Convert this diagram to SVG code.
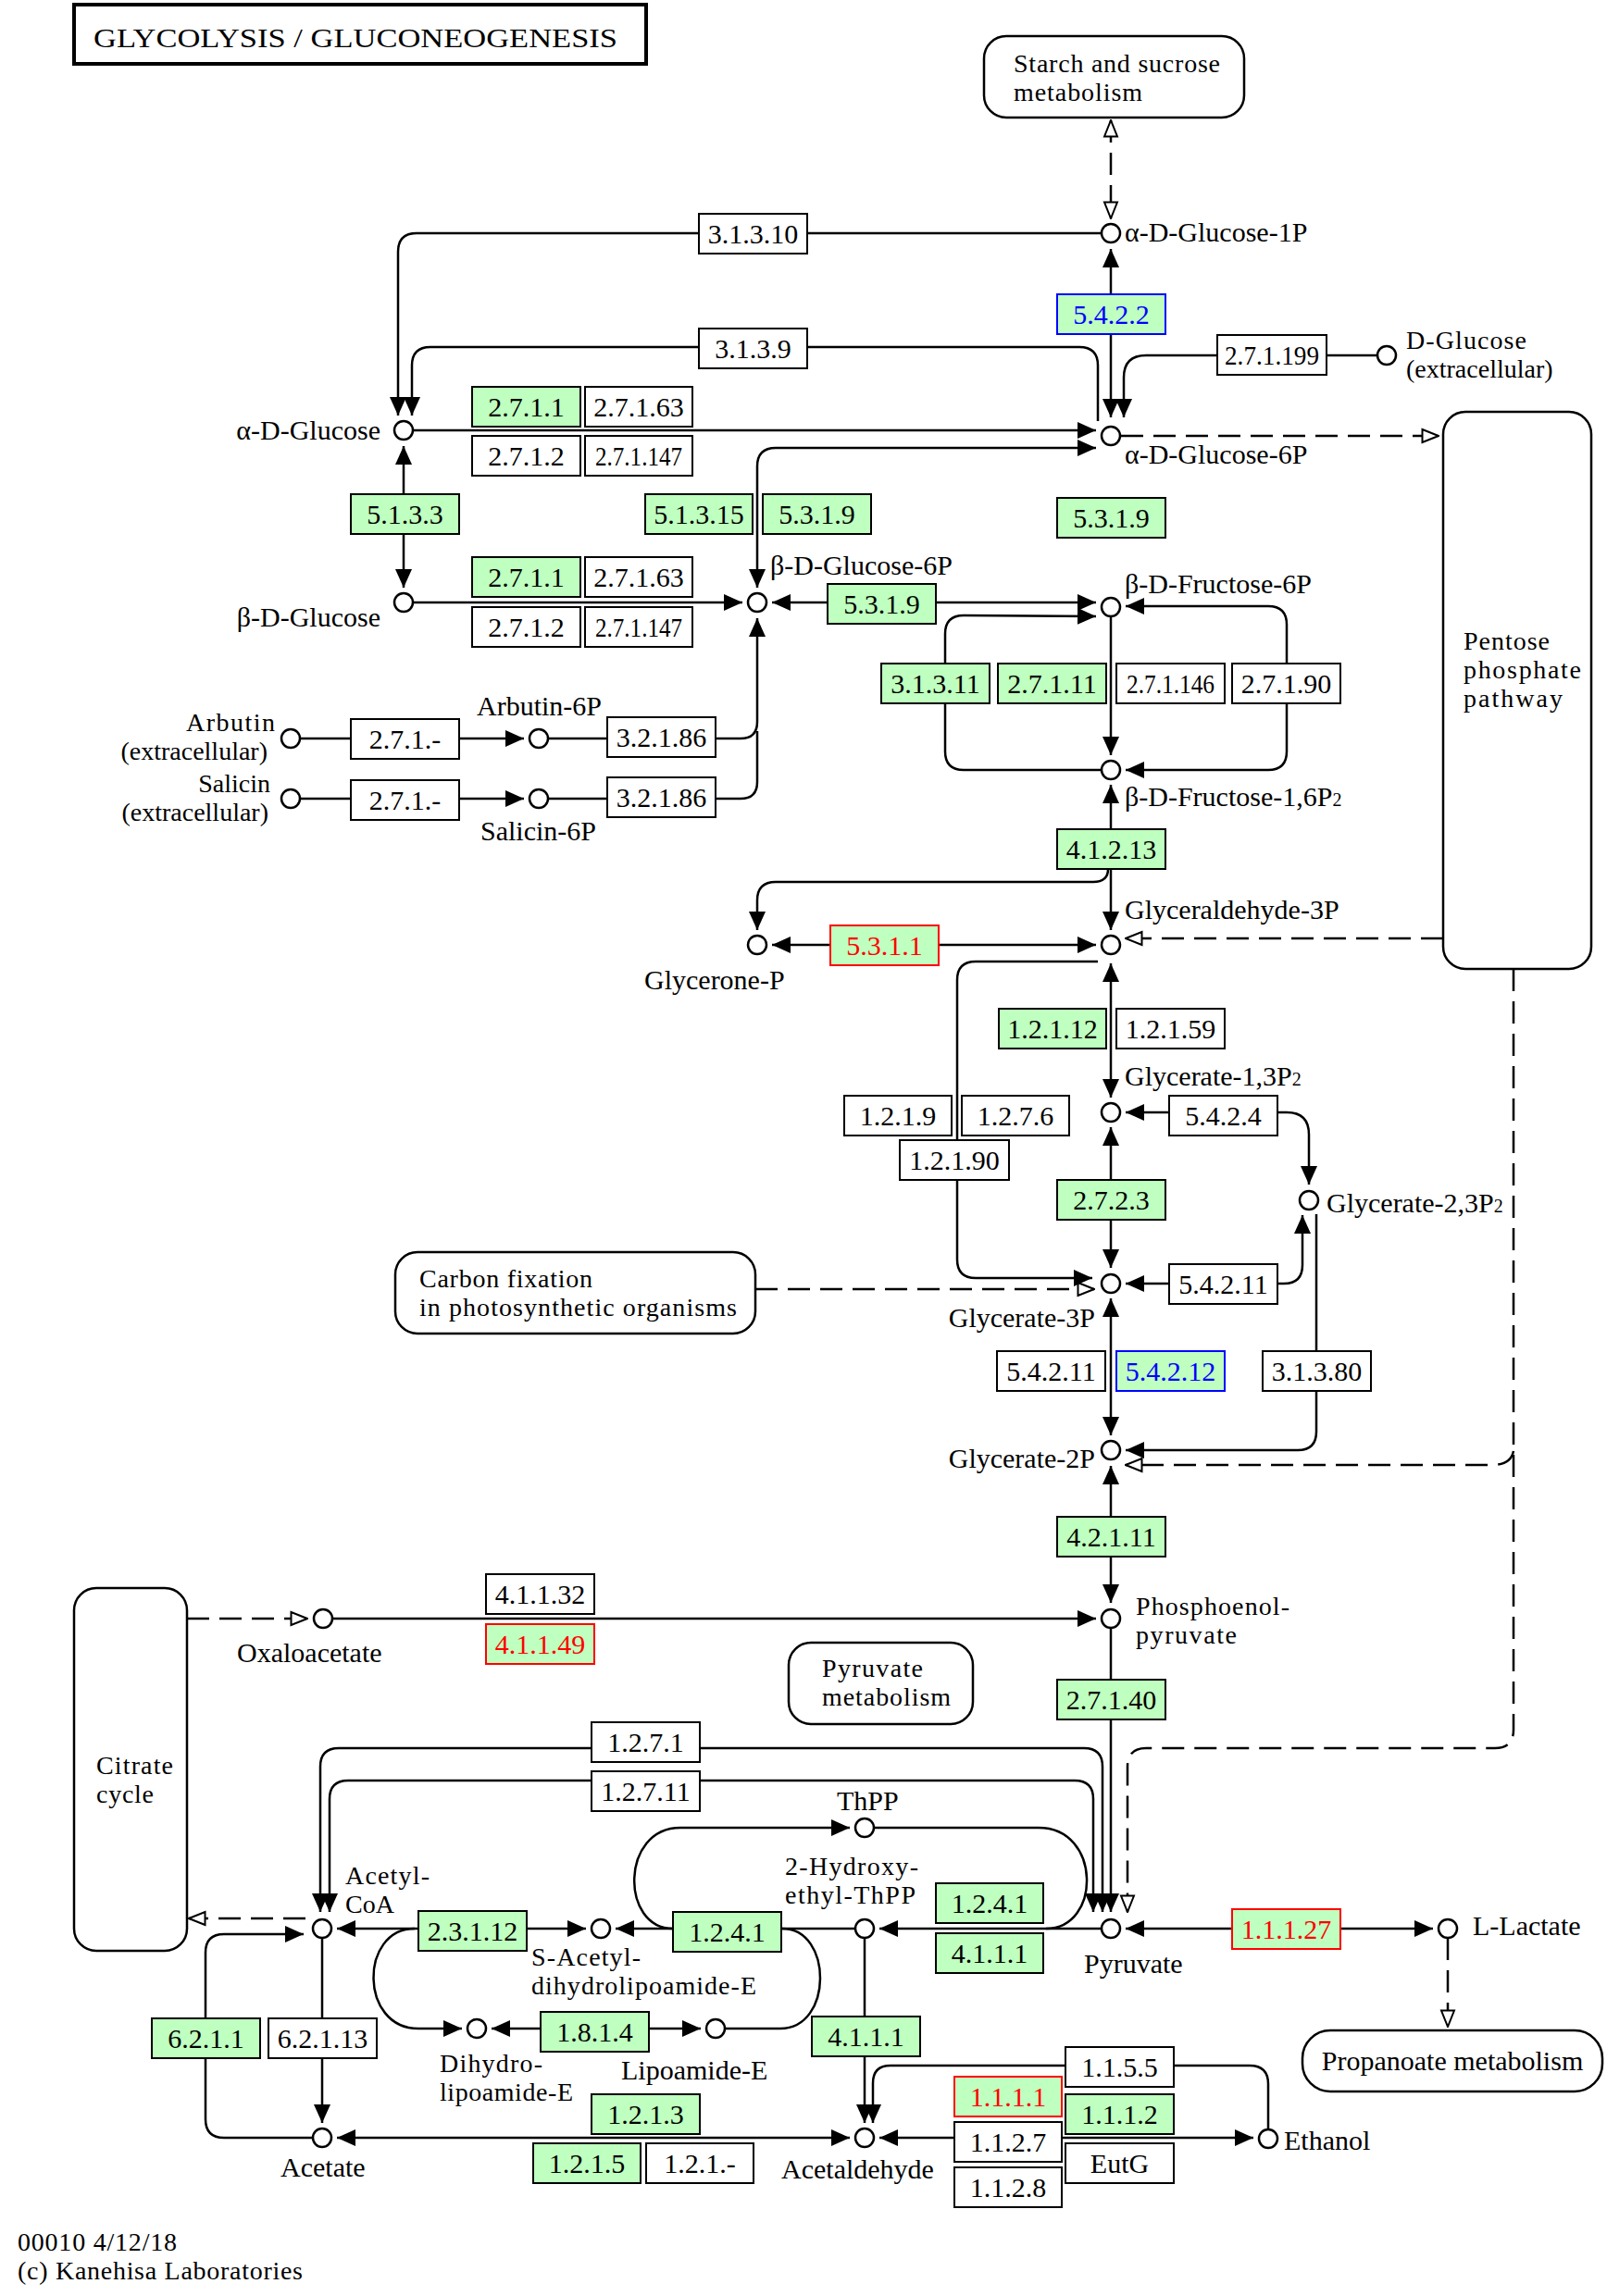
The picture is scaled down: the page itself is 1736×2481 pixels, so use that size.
<svg xmlns="http://www.w3.org/2000/svg" width="1736" height="2481" viewBox="0 0 1736 2481">
<style>
text{font-family:"Liberation Serif",serif;font-size:30px;fill:#000}
.m2{font-size:28px}
.en rect{fill:#fff;stroke:#000;stroke-width:2}
.en text{text-anchor:middle}
.gr rect{fill:#bfffbf}
.rd rect{stroke:#f00}
.rd text{fill:#f00}
.bl rect{stroke:#00f}
.bl text{fill:#00f}
.cp circle{fill:#fff;stroke:#000;stroke-width:2.5}
.mp rect{fill:#fff;stroke:#000;stroke-width:2.5}
.ln{fill:none;stroke:#000;stroke-width:2.5}
.ds{fill:none;stroke:#000;stroke-width:2.5;stroke-dasharray:24 11}
.fa{marker-end:url(#fa)}
.fb{marker-start:url(#fa);marker-end:url(#fa)}
.oa{marker-end:url(#oa)}
.ob{marker-start:url(#oa);marker-end:url(#oa)}
.r{text-anchor:end}
.s{font-size:20px}
</style>
<defs>
<marker id="fa" viewBox="0 0 20 18" refX="20" refY="9" markerWidth="20" markerHeight="18" markerUnits="userSpaceOnUse" orient="auto-start-reverse"><path d="M0,0L20,9L0,18Z" fill="#000" stroke="none"/></marker>
<marker id="oa" viewBox="0 0 20 18" refX="19" refY="9" markerWidth="20" markerHeight="18" markerUnits="userSpaceOnUse" orient="auto-start-reverse"><path d="M1.5,2L19,9L1.5,16Z" fill="#fff" stroke="#000" stroke-width="2" stroke-dasharray="none"/></marker>
</defs>
<rect width="1736" height="2481" fill="#fff"/>

<g id="title"><rect x="80" y="5" width="618" height="64" fill="#fff" stroke="#000" stroke-width="4"/><text x="101" y="51" font-size="35" textLength="566" lengthAdjust="spacingAndGlyphs">GLYCOLYSIS / GLUCONEOGENESIS</text></g>

<g id="connectors">
<path class="ds ob" d="M1200,130L1200,236"/>
<path class="ln fa" d="M1190,252L450,252Q430,252 430,272L430,449"/>
<path class="ln fa" d="M1186,455L1186,395Q1186,375 1166,375L465,375Q445,375 445,395L445,449"/>
<path class="ln fb" d="M1200,269L1200,451"/>
<path class="ln fa" d="M1488,384L1238,384Q1214,384 1214,408L1214,451"/>
<path class="ln fa" d="M446,465L1184,465"/>
<path class="ln fb" d="M1184,484L838,484Q818,484 818,504L818,635"/>
<path class="ds oa" d="M1211,471L1554,471"/>
<path class="ln fb" d="M436,482L436,635"/>
<path class="ln fa" d="M446,651L802,651"/>
<path class="ln fb" d="M834,651L1184,651"/>
<path class="ln fa" d="M1190,832L1041,832Q1021,832 1021,812L1021,685Q1021,665 1041,665L1184,666"/>
<path class="ln fa" d="M1200,666L1200,816"/>
<path class="ln fb" d="M1216,655L1370,655Q1390,655 1390,675L1390,812Q1390,832 1370,832L1216,832"/>
<path class="ln fb" d="M1200,848L1200,1005"/>
<path class="ln fa" d="M1197,939Q1197,953 1181,953L838,953Q818,953 818,973L818,1005"/>
<path class="ln fb" d="M834,1021L1184,1021"/>
<path class="ds oa" d="M1559,1014L1216,1014"/>
<path class="ln fb" d="M1200,1041L1200,1186"/>
<path class="ln fa" d="M1186,1039L1054,1039Q1034,1039 1034,1059L1034,1361Q1034,1381 1054,1381L1180,1381"/>
<path class="ln fb" d="M1216,1202L1390,1202Q1414,1202 1414,1226L1414,1280"/>
<path class="ln fb" d="M1216,1387L1387,1387Q1407,1387 1407,1367L1407,1313"/>
<path class="ln fb" d="M1200,1218L1200,1370"/>
<path class="ds oa" d="M816,1393L1182,1393"/>
<path class="ln fb" d="M1200,1403L1200,1551"/>
<path class="ln fa" d="M1422,1312L1422,1547Q1422,1567 1402,1567L1216,1567"/>
<path class="ds oa" d="M1635,1047L1635,1869Q1635,1889 1615,1889L1238,1889Q1218,1889 1218,1909L1218,2066"/>
<path class="ds oa" d="M1635,1568Q1632,1583 1612,1583L1216,1583"/>
<path class="ln fb" d="M1200,1584L1200,1732"/>
<path class="ln fa" d="M359,1749L1184,1749"/>
<path class="ds oa" d="M202,1749L332,1749"/>
<path class="ln fa" d="M1200,1759L1200,2066"/>
<path class="ln fb" d="M346,2066L346,1909Q346,1889 366,1889L1171,1889Q1191,1889 1191,1909L1191,2066"/>
<path class="ln fb" d="M356,2066L356,1944Q356,1924 376,1924L1161,1924Q1181,1924 1181,1944L1181,2066"/>
<path class="ln fb" d="M1216,2084L1548,2084"/>
<path class="ds oa" d="M1564,2094L1564,2190"/>
<path class="ln fa" d="M1190,2084L950,2084"/>
<path class="ln" d="M944,1975L1122,1975C1190,1975 1190,2084 1130,2084"/>
<path class="ln fa" d="M727,2084C670,2084 670,1975 735,1975L918,1975"/>
<path class="ln fa" d="M924,2084L665,2084"/>
<path class="ln" d="M845,2084C900,2084 900,2192 843,2192L783,2192"/>
<path class="ln fb" d="M364,2084L633,2084"/>
<path class="ln fa" d="M448,2084C388,2084 388,2192 452,2192L499,2192"/>
<path class="ln fb" d="M531,2192L757,2192"/>
<path class="ln fa" d="M934,2094L934,2294"/>
<path class="ln fa" d="M1370,2301L1370,2252Q1370,2232 1350,2232L962,2232Q943,2232 943,2251L943,2294"/>
<path class="ln fb" d="M950,2310L1354,2310"/>
<path class="ln fb" d="M364,2310L918,2310"/>
<path class="ln fa" d="M338,2310L242,2310Q222,2310 222,2290L222,2110Q222,2090 242,2090L328,2090"/>
<path class="ln fa" d="M348,2094L348,2294"/>
<path class="ds oa" d="M330,2073L204,2073"/>
<path class="ln fa" d="M324,798L566,798"/>
<path class="ln fa" d="M592,798L800,798Q818,798 818,780L818,668"/>
<path class="ln fa" d="M324,863L566,863"/>
<path class="ln" d="M592,863L800,863Q818,863 818,845L818,790"/>
</g>

<g id="maps" class="mp">
<g id="m_starch"><rect x="1063" y="39" width="281" height="88" rx="24"/><text class="m2" x="1095" y="78"><tspan textLength="223">Starch and sucrose</tspan><tspan x="1095" dy="31" textLength="139">metabolism</tspan></text></g>
<g id="m_pentose"><rect x="1559" y="445" width="160" height="602" rx="24"/><text class="m2" x="1581" y="702"><tspan textLength="93">Pentose</tspan><tspan x="1581" dy="31" textLength="127">phosphate</tspan><tspan x="1581" dy="31" textLength="107">pathway</tspan></text></g>
<g id="m_carbon"><rect x="427" y="1353" width="389" height="88" rx="24"/><text class="m2" x="453" y="1391"><tspan textLength="187">Carbon fixation</tspan><tspan x="453" dy="31" textLength="343">in photosynthetic organisms</tspan></text></g>
<g id="m_pyruvate"><rect x="852" y="1775" width="199" height="88" rx="24"/><text class="m2" x="888" y="1812"><tspan textLength="109">Pyruvate</tspan><tspan x="888" dy="31" textLength="139">metabolism</tspan></text></g>
<g id="m_citrate"><rect x="80" y="1716" width="122" height="392" rx="24"/><text class="m2" x="104" y="1917"><tspan textLength="83">Citrate</tspan><tspan x="104" dy="31" textLength="62">cycle</tspan></text></g>
<g id="m_propanoate"><rect x="1407" y="2194" width="324" height="66" rx="30"/><text x="1569" y="2237" text-anchor="middle">Propanoate metabolism</text></g>
</g>

<g id="enzymes">
<g id="e1" class="en"><rect x="755" y="231" width="117" height="43"/><text x="813.5" y="263">3.1.3.10</text></g>
<g id="e2" class="en"><rect x="755" y="355" width="117" height="43"/><text x="813.5" y="387">3.1.3.9</text></g>
<g id="e3" class="en gr bl"><rect x="1142" y="318" width="117" height="43"/><text x="1200.5" y="350">5.4.2.2</text></g>
<g id="e4" class="en"><rect x="1315" y="362" width="118" height="43"/><text x="1374" y="394" textLength="102" lengthAdjust="spacingAndGlyphs">2.7.1.199</text></g>
<g id="e5" class="en gr"><rect x="510" y="418" width="117" height="43"/><text x="568.5" y="450">2.7.1.1</text></g>
<g id="e6" class="en"><rect x="632" y="418" width="116" height="43"/><text x="690" y="450">2.7.1.63</text></g>
<g id="e7" class="en"><rect x="510" y="471" width="117" height="43"/><text x="568.5" y="503">2.7.1.2</text></g>
<g id="e8" class="en"><rect x="632" y="471" width="116" height="43"/><text x="690" y="503" textLength="94" lengthAdjust="spacingAndGlyphs">2.7.1.147</text></g>
<g id="e9" class="en gr"><rect x="379" y="534" width="117" height="43"/><text x="437.5" y="566">5.1.3.3</text></g>
<g id="e10" class="en gr"><rect x="697" y="534" width="116" height="43"/><text x="755" y="566">5.1.3.15</text></g>
<g id="e11" class="en gr"><rect x="824" y="534" width="117" height="43"/><text x="882.5" y="566">5.3.1.9</text></g>
<g id="e12" class="en gr"><rect x="1142" y="538" width="117" height="43"/><text x="1200.5" y="570">5.3.1.9</text></g>
<g id="e13" class="en gr"><rect x="510" y="602" width="117" height="43"/><text x="568.5" y="634">2.7.1.1</text></g>
<g id="e14" class="en"><rect x="632" y="602" width="116" height="43"/><text x="690" y="634">2.7.1.63</text></g>
<g id="e15" class="en"><rect x="510" y="656" width="117" height="43"/><text x="568.5" y="688">2.7.1.2</text></g>
<g id="e16" class="en"><rect x="632" y="656" width="116" height="43"/><text x="690" y="688" textLength="94" lengthAdjust="spacingAndGlyphs">2.7.1.147</text></g>
<g id="e17" class="en gr"><rect x="894" y="631" width="117" height="43"/><text x="952.5" y="663">5.3.1.9</text></g>
<g id="e18" class="en gr"><rect x="952" y="717" width="117" height="43"/><text x="1010.5" y="749">3.1.3.11</text></g>
<g id="e19" class="en gr"><rect x="1078" y="717" width="117" height="43"/><text x="1136.5" y="749">2.7.1.11</text></g>
<g id="e20" class="en"><rect x="1206" y="717" width="117" height="43"/><text x="1264.5" y="749" textLength="95" lengthAdjust="spacingAndGlyphs">2.7.1.146</text></g>
<g id="e21" class="en"><rect x="1331" y="717" width="117" height="43"/><text x="1389.5" y="749">2.7.1.90</text></g>
<g id="e22" class="en"><rect x="379" y="777" width="117" height="43"/><text x="437.5" y="809">2.7.1.-</text></g>
<g id="e23" class="en"><rect x="656" y="775" width="117" height="43"/><text x="714.5" y="807">3.2.1.86</text></g>
<g id="e24" class="en"><rect x="379" y="843" width="117" height="43"/><text x="437.5" y="875">2.7.1.-</text></g>
<g id="e25" class="en"><rect x="656" y="840" width="117" height="43"/><text x="714.5" y="872">3.2.1.86</text></g>
<g id="e26" class="en gr"><rect x="1142" y="896" width="117" height="43"/><text x="1200.5" y="928">4.1.2.13</text></g>
<g id="e27" class="en gr rd"><rect x="897" y="1000" width="117" height="43"/><text x="955.5" y="1032">5.3.1.1</text></g>
<g id="e28" class="en gr"><rect x="1079" y="1090" width="116" height="43"/><text x="1137" y="1122">1.2.1.12</text></g>
<g id="e29" class="en"><rect x="1206" y="1090" width="117" height="43"/><text x="1264.5" y="1122">1.2.1.59</text></g>
<g id="e30" class="en"><rect x="912" y="1184" width="116" height="43"/><text x="970" y="1216">1.2.1.9</text></g>
<g id="e31" class="en"><rect x="1039" y="1184" width="116" height="43"/><text x="1097" y="1216">1.2.7.6</text></g>
<g id="e32" class="en"><rect x="1263" y="1184" width="117" height="43"/><text x="1321.5" y="1216">5.4.2.4</text></g>
<g id="e33" class="en"><rect x="972" y="1232" width="118" height="43"/><text x="1031" y="1264">1.2.1.90</text></g>
<g id="e34" class="en gr"><rect x="1142" y="1275" width="117" height="43"/><text x="1200.5" y="1307">2.7.2.3</text></g>
<g id="e35" class="en"><rect x="1263" y="1366" width="117" height="43"/><text x="1321.5" y="1398">5.4.2.11</text></g>
<g id="e36" class="en"><rect x="1077" y="1460" width="117" height="43"/><text x="1135.5" y="1492">5.4.2.11</text></g>
<g id="e37" class="en gr bl"><rect x="1206" y="1460" width="117" height="43"/><text x="1264.5" y="1492">5.4.2.12</text></g>
<g id="e38" class="en"><rect x="1364" y="1460" width="117" height="43"/><text x="1422.5" y="1492">3.1.3.80</text></g>
<g id="e39" class="en gr"><rect x="1142" y="1639" width="117" height="43"/><text x="1200.5" y="1671">4.2.1.11</text></g>
<g id="e40" class="en"><rect x="525" y="1701" width="117" height="43"/><text x="583.5" y="1733">4.1.1.32</text></g>
<g id="e41" class="en gr rd"><rect x="525" y="1755" width="117" height="43"/><text x="583.5" y="1787">4.1.1.49</text></g>
<g id="e42" class="en gr"><rect x="1142" y="1815" width="117" height="43"/><text x="1200.5" y="1847">2.7.1.40</text></g>
<g id="e43" class="en"><rect x="639" y="1861" width="117" height="43"/><text x="697.5" y="1893">1.2.7.1</text></g>
<g id="e44" class="en"><rect x="639" y="1914" width="117" height="43"/><text x="697.5" y="1946">1.2.7.11</text></g>
<g id="e45" class="en gr"><rect x="1011" y="2035" width="116" height="43"/><text x="1069" y="2067">1.2.4.1</text></g>
<g id="e46" class="en gr"><rect x="1011" y="2089" width="116" height="43"/><text x="1069" y="2121">4.1.1.1</text></g>
<g id="e47" class="en gr rd"><rect x="1331" y="2063" width="117" height="43"/><text x="1389.5" y="2095">1.1.1.27</text></g>
<g id="e48" class="en gr"><rect x="727" y="2066" width="117" height="43"/><text x="785.5" y="2098">1.2.4.1</text></g>
<g id="e49" class="en gr"><rect x="452" y="2065" width="117" height="43"/><text x="510.5" y="2097">2.3.1.12</text></g>
<g id="e50" class="en gr"><rect x="584" y="2174" width="117" height="43"/><text x="642.5" y="2206">1.8.1.4</text></g>
<g id="e51" class="en gr"><rect x="877" y="2179" width="117" height="43"/><text x="935.5" y="2211">4.1.1.1</text></g>
<g id="e52" class="en gr"><rect x="164" y="2181" width="117" height="43"/><text x="222.5" y="2213">6.2.1.1</text></g>
<g id="e53" class="en"><rect x="290" y="2181" width="117" height="43"/><text x="348.5" y="2213">6.2.1.13</text></g>
<g id="e54" class="en"><rect x="1151" y="2212" width="117" height="43"/><text x="1209.5" y="2244">1.1.5.5</text></g>
<g id="e55" class="en gr rd"><rect x="1031" y="2244" width="116" height="43"/><text x="1089" y="2276">1.1.1.1</text></g>
<g id="e56" class="en gr"><rect x="639" y="2263" width="117" height="43"/><text x="697.5" y="2295">1.2.1.3</text></g>
<g id="e57" class="en gr"><rect x="1151" y="2263" width="117" height="43"/><text x="1209.5" y="2295">1.1.1.2</text></g>
<g id="e58" class="en"><rect x="1031" y="2293" width="116" height="43"/><text x="1089" y="2325">1.1.2.7</text></g>
<g id="e59" class="en gr"><rect x="576" y="2316" width="116" height="43"/><text x="634" y="2348">1.2.1.5</text></g>
<g id="e60" class="en"><rect x="698" y="2316" width="116" height="43"/><text x="756" y="2348">1.2.1.-</text></g>
<g id="e61" class="en"><rect x="1151" y="2316" width="117" height="43"/><text x="1209.5" y="2348">EutG</text></g>
<g id="e62" class="en"><rect x="1031" y="2342" width="116" height="43"/><text x="1089" y="2374">1.1.2.8</text></g>
</g>

<g id="compounds" class="cp">
<g id="c_g1p"><circle cx="1200" cy="252" r="10"/><text x="1215" y="261">α-D-Glucose-1P</text></g>
<g id="c_dglc"><circle cx="1498" cy="384" r="10"/><text class="m2" x="1519" y="377"><tspan textLength="130">D-Glucose</tspan><tspan x="1519" dy="31">(extracellular)</tspan></text></g>
<g id="c_aglc"><circle cx="436" cy="465" r="10"/><text class="r" x="411" y="475">α-D-Glucose</text></g>
<g id="c_g6p"><circle cx="1200" cy="471" r="10"/><text x="1215" y="501">α-D-Glucose-6P</text></g>
<g id="c_bglc"><circle cx="436" cy="651" r="10"/><text class="r" x="411" y="677">β-D-Glucose</text></g>
<g id="c_bg6p"><circle cx="818" cy="651" r="10"/><text x="832" y="621">β-D-Glucose-6P</text></g>
<g id="c_f6p"><circle cx="1200" cy="656" r="10"/><text x="1215" y="641">β-D-Fructose-6P</text></g>
<g id="c_f16p"><circle cx="1200" cy="832" r="10"/><text x="1215" y="871">β-D-Fructose-1,6P<tspan class="s">2</tspan></text></g>
<g id="c_arb"><circle cx="314" cy="798" r="10"/><text class="r m2" x="297" y="790"><tspan textLength="96">Arbutin</tspan><tspan x="289" dy="31">(extracellular)</tspan></text></g>
<g id="c_arb6p"><circle cx="582" cy="798" r="10"/><text x="515" y="773">Arbutin-6P</text></g>
<g id="c_sal"><circle cx="314" cy="863" r="10"/><text class="r m2" x="292" y="856">Salicin<tspan x="290" dy="31">(extracellular)</tspan></text></g>
<g id="c_sal6p"><circle cx="582" cy="863" r="10"/><text x="519" y="908">Salicin-6P</text></g>
<g id="c_g3p"><circle cx="1200" cy="1021" r="10"/><text x="1215" y="993">Glyceraldehyde-3P</text></g>
<g id="c_gnp"><circle cx="818" cy="1021" r="10"/><text x="696" y="1069">Glycerone-P</text></g>
<g id="c_13p"><circle cx="1200" cy="1202" r="10"/><text x="1215" y="1173">Glycerate-1,3P<tspan class="s">2</tspan></text></g>
<g id="c_23p"><circle cx="1414" cy="1297" r="10"/><text x="1433" y="1310">Glycerate-2,3P<tspan class="s">2</tspan></text></g>
<g id="c_3p"><circle cx="1200" cy="1387" r="10"/><text class="r" x="1183" y="1434">Glycerate-3P</text></g>
<g id="c_2p"><circle cx="1200" cy="1567" r="10"/><text class="r" x="1183" y="1586">Glycerate-2P</text></g>
<g id="c_pep"><circle cx="1200" cy="1749" r="10"/><text class="m2" x="1227" y="1745"><tspan textLength="166">Phosphoenol-</tspan><tspan x="1227" dy="31" textLength="109">pyruvate</tspan></text></g>
<g id="c_oaa"><circle cx="349" cy="1749" r="10"/><text x="256" y="1796">Oxaloacetate</text></g>
<g id="c_thpp"><circle cx="934" cy="1975" r="10"/><text x="904" y="1956">ThPP</text></g>
<g id="c_pyr"><circle cx="1200" cy="2084" r="10"/><text x="1171" y="2132">Pyruvate</text></g>
<g id="c_lac"><circle cx="1564" cy="2084" r="10"/><text x="1591" y="2091">L-Lactate</text></g>
<g id="c_hethpp"><circle cx="934" cy="2084" r="10"/><text class="m2" x="848" y="2026"><tspan textLength="144">2-Hydroxy-</tspan><tspan x="848" dy="31" textLength="141">ethyl-ThPP</tspan></text></g>
<g id="c_sacl"><circle cx="649" cy="2084" r="10"/><text class="m2" x="574" y="2124"><tspan textLength="118">S-Acetyl-</tspan><tspan x="574" dy="31" textLength="243">dihydrolipoamide-E</tspan></text></g>
<g id="c_accoa"><circle cx="348" cy="2084" r="10"/><text class="m2" x="373" y="2036"><tspan textLength="91">Acetyl-</tspan><tspan x="373" dy="31">CoA</tspan></text></g>
<g id="c_dhl"><circle cx="515" cy="2192" r="10"/><text class="m2" x="475" y="2239"><tspan textLength="111">Dihydro-</tspan><tspan x="475" dy="31" textLength="144">lipoamide-E</tspan></text></g>
<g id="c_lip"><circle cx="773" cy="2192" r="10"/><text x="671" y="2247">Lipoamide-E</text></g>
<g id="c_acald"><circle cx="934" cy="2310" r="10"/><text x="844" y="2354">Acetaldehyde</text></g>
<g id="c_acetate"><circle cx="348" cy="2310" r="10"/><text x="303" y="2352">Acetate</text></g>
<g id="c_ethanol"><circle cx="1370" cy="2311" r="10"/><text x="1387" y="2323">Ethanol</text></g>
</g>

<g id="footer"><text class="m2" x="19" y="2432"><tspan textLength="172">00010 4/12/18</tspan><tspan x="19" dy="31" textLength="308">(c) Kanehisa Laboratories</tspan></text></g>
</svg>
